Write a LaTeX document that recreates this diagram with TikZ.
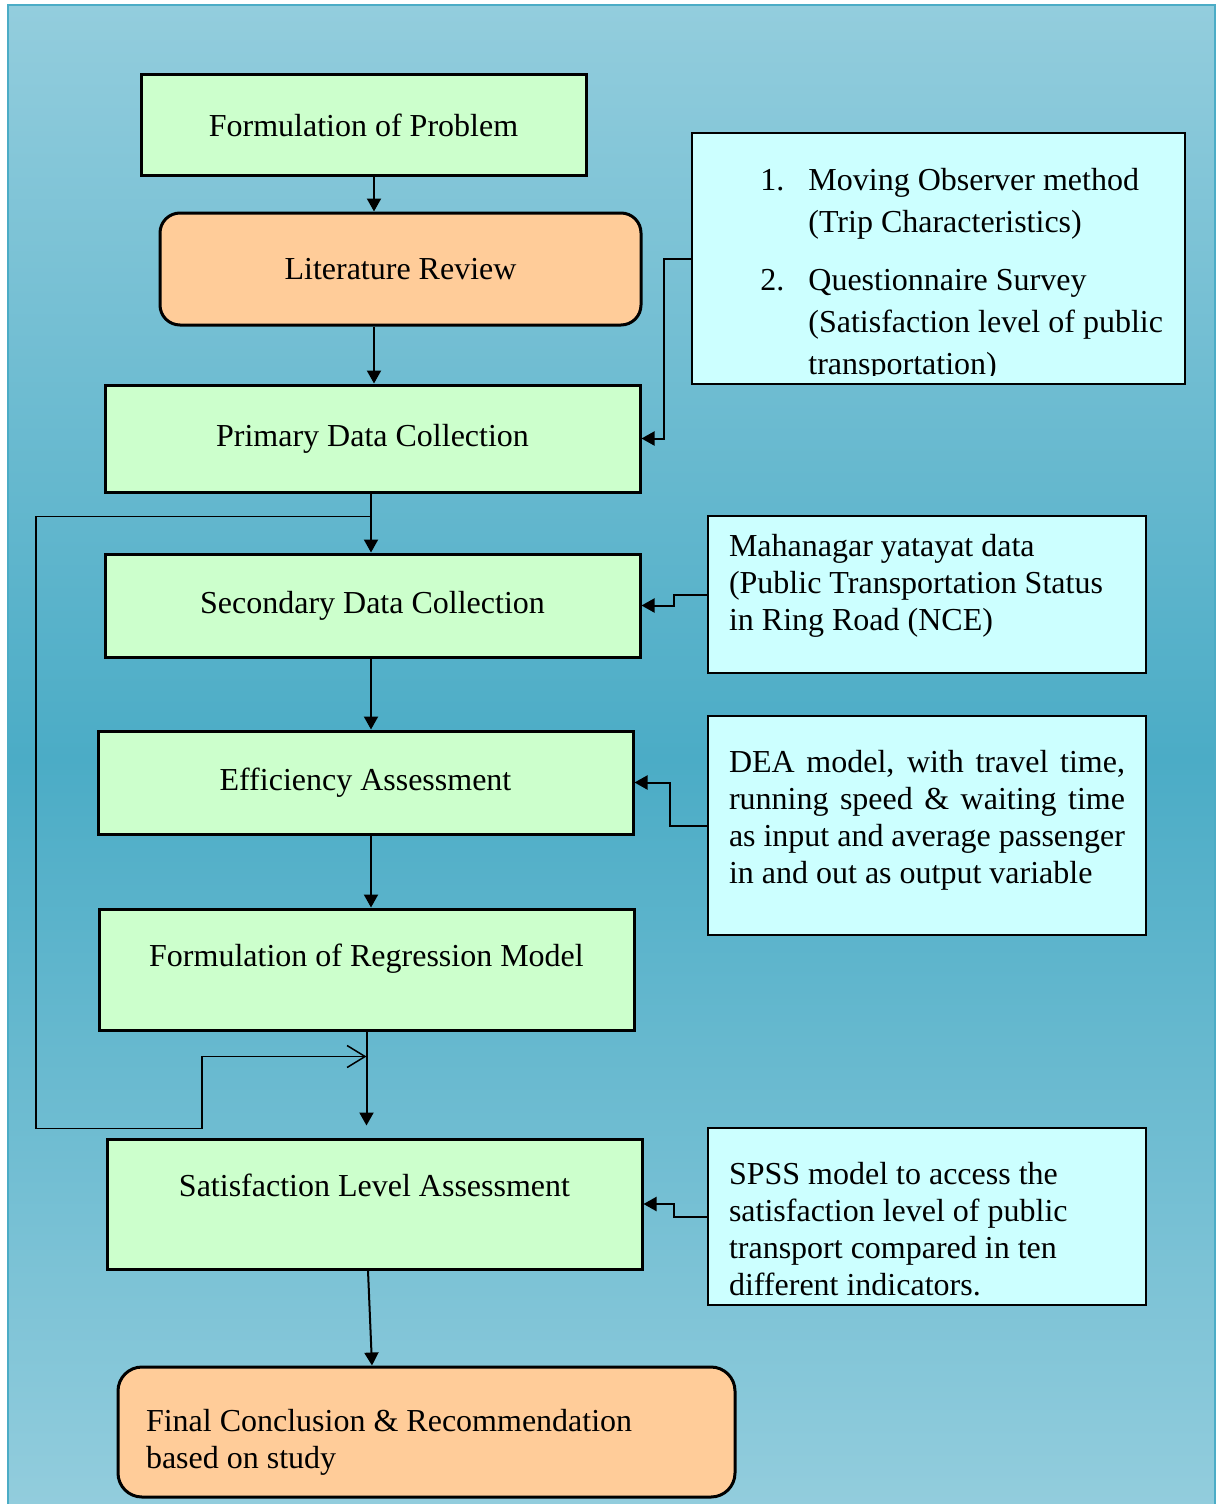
\documentclass[tikz,border=0pt]{standalone}
\usepackage{fontspec}
\setmainfont{Liberation Serif}
\usetikzlibrary{arrows.meta,calc}
\definecolor{bgLight}{HTML}{93CDDD}
\definecolor{bgDark}{HTML}{4BACC6}
\definecolor{boxGreen}{HTML}{CCFFCC}
\definecolor{boxOrange}{HTML}{FFCC99}
\definecolor{boxCyan}{HTML}{CCFFFF}
\begin{document}
\begin{tikzpicture}[x=0.5pt,y=-0.5pt]
        \tikzstyle{box_style} = [rectangle,draw=black,line width=1.5pt,fill=boxGreen,font=\fontsize{16}{18.5}\selectfont]
        \tikzstyle{round_style} = [box_style,fill=boxOrange,rounded corners=10pt]
        \tikzstyle{side_style} = [rectangle,draw=black,line width=0.8pt,fill=boxCyan,font=\fontsize{16}{18.5}\selectfont,inner xsep=10.5pt]
        \tikzstyle{edge_style} = [draw=black,line width=1pt,-{Triangle[length=6.5pt,width=7pt]}]
        \tikzstyle{loop_style} = [draw=black,line width=0.75pt,-{Straight Barb[length=9pt,width=11pt]}]
        \useasboundingbox (0,0) rectangle (1221,1504);
        \shade[top color=bgLight,bottom color=bgLight,middle color=bgDark] (8,5) rectangle (1215,1512);
        \draw[bgDark,line width=1pt] (8,5) rectangle (1215,1512);
        % main steps
        \node[box_style,minimum width=222.5pt,minimum height=50pt] (prob) at (363.5,125) {Formulation of Problem};
        \node[round_style,minimum width=240.5pt,minimum height=56pt] (lit) at (400.5,269) {Literature Review};
        \node[box_style,minimum width=267.5pt,minimum height=53.5pt] (prim) at (372.5,438.5) {Primary Data Collection};
        \node[box_style,minimum width=267.5pt,minimum height=51.5pt] (sec) at (372.5,605.5) {Secondary Data Collection};
        \node[box_style,minimum width=267.5pt,minimum height=51.5pt] (eff) at (365.5,782.5) {Efficiency Assessment};
        \node[box_style,minimum width=267.5pt,minimum height=60.5pt,text depth=14pt] (reg) at (366.5,969.5) {Formulation of Regression Model};
        \node[box_style,minimum width=267.5pt,minimum height=65pt,text depth=19pt] (sat) at (374.5,1204) {Satisfaction Level Assessment};
        \node[round_style,rounded corners=12pt,inner xsep=14pt,inner ysep=21pt] (fin) at (426.5,1432) {\parbox[c][23pt][t]{280.5pt}{Final Conclusion \& Recommendation\\ based on study}};
        % side notes
        \node[side_style,minimum width=246.5pt,minimum height=125.5pt] (boxA) at (938.5,258.5) {};
        \begin{scope}
          \clip (692,133) rectangle (1185,375);
          \node[anchor=north west,inner sep=0pt,font=\fontsize{16}{21}\selectfont] (listA) at (760,160.6) {\begin{tabular}{@{}p{24pt}@{}l@{}}
            1. & Moving Observer method\\
               & (Trip Characteristics)\\[8pt]
            2. & Questionnaire Survey\\
               & (Satisfaction level of public\\
               & transportation)
          \end{tabular}};
        \end{scope}
        \node[side_style,inner ysep=9pt] (boxB) at (927,594.5) {\parbox[c][60.5pt][t]{198pt}{\raggedright Mahanagar yatayat data\\ (Public Transportation Status\\ in Ring Road (NCE)}};
        \node[side_style,inner ysep=17pt] (boxC) at (927,825.5) {\parbox[c][75.5pt][t]{198pt}{DEA model, with travel time, \linebreak running speed \& waiting time \linebreak as input and average passenger \linebreak in and out as output variable}};
        \node[side_style,inner ysep=17pt] (boxD) at (927,1216.5) {\parbox[c][54.5pt][t]{198pt}{\raggedright SPSS model to access the\\ satisfaction level of public\\ transport compared in ten\\ different indicators.}};
        % flow
        \coordinate (satin) at ($(reg.south |- sat.north)+(0,-12)$);
        \coordinate (loopstart) at ($(prim.south)+(-1.5,23)$);
        \coordinate (loopend) at ($(reg.south)+(0,25)$);
        \draw[edge_style] ([xshift=5.25pt]prob.south) -- ([xshift=-13.25pt]lit.north);
        \draw[edge_style] ([xshift=-13.25pt]lit.south) -- ([xshift=0.75pt]prim.north);
        \draw[edge_style] ([xshift=-0.75pt]prim.south) -- ([xshift=-0.75pt]sec.north);
        \draw[edge_style] ([xshift=-0.75pt]sec.south) -- ([xshift=-0.75pt]sec.south |- eff.north);
        \draw[edge_style] ([xshift=2.75pt]eff.south) -- ([xshift=2.75pt]eff.south |- reg.north);
        \draw[edge_style] (reg.south) -- (satin);
        \draw[edge_style] ([xshift=-3.25pt]sat.south) -- ([xshift=-27.25pt]fin.north);
        \draw[edge_style] (boxA.west) -- ++(-27,0) |- (prim.east);
        \draw[edge_style] (boxB.west) -- ++(-33,0) |- (sec.east);
        \draw[edge_style] (boxC.west) -- ++(-37,0) |- (eff.east);
        \draw[edge_style] (boxD.west) -- ++(-33,0) |- (sat.east);
        \draw[loop_style] (loopstart) -- ++(-335,0) -- ++(0,612) -- ++(166,0) -- ++(0,-72) -- (loopend);
      \end{tikzpicture}
\end{document}
